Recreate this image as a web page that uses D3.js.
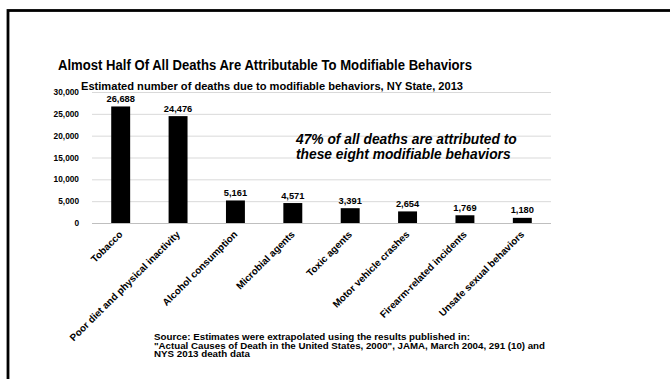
<!DOCTYPE html>
<html><head><meta charset="utf-8">
<script src="https://cdn.jsdelivr.net/npm/d3@7"></script>
<style>body{margin:0;background:#fff}svg{display:block;font-family:"Liberation Sans",Arial,sans-serif}</style>
</head><body>
<svg id="c" width="670" height="379"></svg>
<script>
const categories = ["Tobacco","Poor diet and physical inactivity","Alcohol consumption","Microbial agents","Toxic agents","Motor vehicle crashes","Firearm-related incidents","Unsafe sexual behaviors"];
const deaths = [26688,24476,5161,4571,3391,2654,1769,1180];
const yTicks = [0,5000,10000,15000,20000,25000,30000];
const title = "Almost Half Of All Deaths Are Attributable To Modifiable Behaviors";
const subtitle = "Estimated number of deaths due to modifiable behaviors, NY State, 2013";
const note = ["47% of all deaths are attributed to","these eight modifiable behaviors"];
const source = ["Source: Estimates  were extrapolated using the results published in:",
 "\"Actual Causes of Death in the United States, 2000\", JAMA, March 2004, 291 (10) and",
 "NYS 2013 death data"];

const svg = d3.select("#c");
// frame
svg.append("rect").attr("x",8).attr("y",10.5).attr("width",700).attr("height",400)
  .attr("fill","none").attr("stroke","#000").attr("stroke-width",2.8);

const x = d3.scaleBand().domain(categories).range([92,551]).paddingInner(0.67).paddingOuter(0.335);
const y = d3.scaleLinear().domain([0,30000]).range([223,92]);

function fit(sel, w){ sel.attr("textLength",w).attr("lengthAdjust","spacingAndGlyphs"); }

svg.append("text").attr("x",265).attr("y",70).attr("text-anchor","middle")
  .attr("font-size",14.5).attr("font-weight","bold").text(title).call(fit,414);
svg.append("text").attr("x",272).attr("y",89.5).attr("text-anchor","middle")
  .attr("font-size",11.5).attr("font-weight","bold").text(subtitle).call(fit,382);

// grid
const yAxis = d3.axisLeft(y).tickValues(yTicks).tickSize(-(551-92)).tickPadding(13)
  .tickFormat(d3.format(","));
const ga = svg.append("g").attr("transform","translate(92,0)").call(yAxis);
ga.select(".domain").remove();
ga.selectAll(".tick line").attr("stroke",d=>d===0?"#bfbfbf":"#d9d9d9").attr("stroke-width",1);
ga.selectAll(".tick text").attr("font-size",8.3).attr("font-weight","bold").attr("fill","#000")
  .attr("font-family","Liberation Sans, Arial, sans-serif");

// bars
svg.append("g").selectAll("rect").data(deaths).join("rect")
  .attr("x",(d,i)=>x(categories[i])).attr("width",x.bandwidth())
  .attr("y",d=>y(d)).attr("height",d=>y(0)-y(d)).attr("fill","#000");

svg.append("g").selectAll("text").data(deaths).join("text")
  .attr("x",(d,i)=>x(categories[i])+x.bandwidth()/2).attr("y",d=>y(d)-4.5)
  .attr("text-anchor","middle").attr("font-size",9.3).attr("font-weight","bold")
  .text(d=>d3.format(",")(d));

// x labels
const xAxis = d3.axisBottom(x).tickSize(0).tickPadding(0);
const gx = svg.append("g").attr("transform","translate(0,223)").call(xAxis);
gx.select(".domain").remove();
gx.selectAll(".tick text").attr("font-size",9.9).attr("font-weight","bold").attr("fill","#000")
  .attr("font-family","Liberation Sans, Arial, sans-serif")
  .attr("text-anchor","end").attr("dy",null).attr("y",null)
  .attr("transform","translate(2.5,12) rotate(-45)");

// note
svg.append("g").selectAll("text").data(note).join("text")
  .attr("x",296).attr("y",(d,i)=>143.5+i*15).attr("font-size",13.8)
  .attr("font-weight","bold").attr("font-style","italic").text(d=>d);

// source
const srcW = [316,391,96];
svg.append("g").selectAll("text").data(source).join("text")
  .attr("x",154).attr("y",(d,i)=>340+i*8.7).attr("font-size",8.8).attr("font-weight","bold")
  .text(d=>d).each(function(d,i){ d3.select(this).call(fit,srcW[i]); });
</script></body></html>
